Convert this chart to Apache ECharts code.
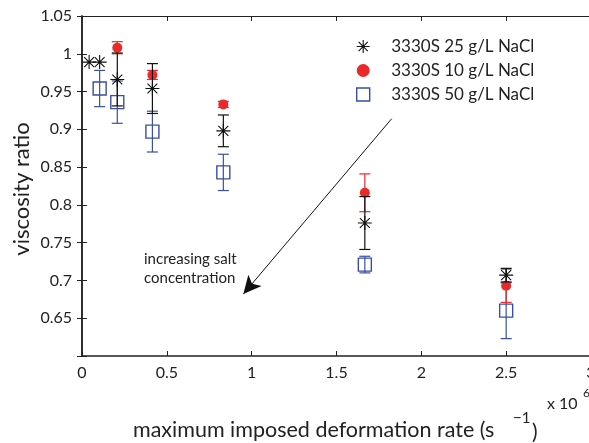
<!DOCTYPE html>
<html><head><meta charset="utf-8">
<script src="https://cdn.jsdelivr.net/npm/echarts@6/dist/echarts.min.js"></script>
<style>html,body{margin:0;padding:0;background:#fff}#c{width:589px;height:443px}</style>
</head><body><div id="c"></div>
<script>
// ---- data (x in units of 10^6 s^-1) ----
const seriesNames = ['3330S 25 g/L NaCl', '3330S 10 g/L NaCl', '3330S 50 g/L NaCl'];
const x25 = [0.042, 0.104, 0.208, 0.415, 0.833, 1.667, 2.5];
const y25 = [0.989, 0.989, 0.966, 0.954, 0.898, 0.776, 0.707];
const e25 = [0, 0, 0.035, 0.033, 0.021, 0.035, 0.009];
const x10 = [0.208, 0.415, 0.833, 1.667, 2.5];
const y10 = [1.008, 0.972, 0.933, 0.816, 0.693];
const e10 = [0.008, 0.006, 0.004, 0.025, 0.022];
const x50 = [0.104, 0.208, 0.415, 0.833, 1.667, 2.5];
const y50 = [0.954, 0.936, 0.897, 0.843, 0.721, 0.660];
const e50 = [0.024, 0.028, 0.027, 0.024, 0.011, 0.037];
const xTicks = [0, 0.5, 1, 1.5, 2, 2.5, 3];
const yTicks = [0.65, 0.7, 0.75, 0.8, 0.85, 0.9, 0.95, 1, 1.05];
// annotation arrow (data coords): from -> to
const arrowFrom = [1.825, 0.914];
const arrowTo = [0.951, 0.682];

const colors = ['#111111', '#ea2a2a', '#3a4ea6'];
const FONT = 'Lato';
const asterisk = 'path://M0,6 L12,6 M6,0 L6,12 M1.76,1.76 L10.24,10.24 M10.24,1.76 L1.76,10.24';
const square = 'path://M0,0 L10,0 L10,10 L0,10 Z';

function pts(xs, ys) { return xs.map((x, i) => [x, ys[i]]); }
function errs(xs, ys, es) { return xs.map((x, i) => [x, ys[i], es[i]]).filter(d => d[2] > 0); }

function errSeries(name, data, color, z) {
  return {
    type: 'custom', name: name, z: z, data: data,
    encode: { x: 0, y: 1 },
    renderItem: function (params, api) {
      const x = api.value(0), y = api.value(1), e = api.value(2);
      const t = api.coord([x, y + e]), b = api.coord([x, y - e]);
      const cx = t[0], hw = 5.5;
      const st = { stroke: color, lineWidth: 1.2, fill: null };
      return { type: 'group', children: [
        { type: 'line', shape: { x1: cx, y1: t[1], x2: cx, y2: b[1] }, style: st },
        { type: 'line', shape: { x1: cx - hw, y1: t[1], x2: cx + hw, y2: t[1] }, style: st },
        { type: 'line', shape: { x1: cx - hw, y1: b[1], x2: cx + hw, y2: b[1] }, style: st }
      ]};
    }
  };
}

const chart = echarts.init(document.getElementById('c'), null, { renderer: 'canvas' });
const axisLine = { show: true, lineStyle: { color: '#222', width: 1.5 } };
const tickStyle = { show: true, inside: true, length: 5, lineStyle: { color: '#222', width: 1 } };
const fmt = (list) => v => { const n = +(+v).toFixed(2); return list.indexOf(n) >= 0 ? String(n) : ''; };

chart.setOption({
  animation: false,
  grid: { left: 82, top: 16, width: 509, height: 340, containLabel: false, outerBoundsMode: 'none' },
  xAxis: [
    { type: 'value', min: 0, max: 3, interval: 0.5, position: 'bottom',
      axisLine: axisLine, axisTick: tickStyle, splitLine: { show: false },
      axisLabel: { formatter: fmt(xTicks), color: '#222', fontFamily: FONT, fontSize: 16, margin: 9 } },
    { type: 'value', min: 0, max: 3, interval: 0.5, position: 'top',
      axisLine: { show: true, lineStyle: { color: '#222', width: 1.2 } }, axisTick: tickStyle, splitLine: { show: false }, axisLabel: { show: false } }
  ],
  yAxis: [
    { type: 'value', min: 0.6, max: 1.05, interval: 0.05, position: 'left',
      axisLine: axisLine, axisTick: tickStyle, splitLine: { show: false },
      axisLabel: { formatter: fmt(yTicks), color: '#222', fontFamily: FONT, fontSize: 16, margin: 10 } },
    { type: 'value', min: 0.6, max: 1.05, interval: 0.05, position: 'right',
      axisLine: axisLine, axisTick: tickStyle, splitLine: { show: false }, axisLabel: { show: false } }
  ],
  legend: {
    orient: 'vertical', left: 351, top: 33, itemWidth: 46, itemHeight: 13, itemGap: 7,
    textStyle: { fontFamily: FONT, fontSize: 17, color: '#222', lineHeight: 17 },
    selectedMode: false,
    data: [
      { name: seriesNames[0], icon: asterisk, itemStyle: { color: '#111', borderColor: '#111', borderWidth: 1.1 } },
      { name: seriesNames[1], icon: 'circle', itemStyle: { color: colors[1], borderWidth: 0 } },
      { name: seriesNames[2], icon: square, itemStyle: { color: 'rgba(0,0,0,0)', borderColor: colors[2], borderWidth: 1.4 } }
    ]
  },
  series: [
    errSeries('err50', errs(x50, y50, e50), colors[2], 2),
    { type: 'scatter', name: seriesNames[2], z: 3, data: pts(x50, y50), symbol: square, symbolSize: 13,
      itemStyle: { color: 'rgba(0,0,0,0)', borderColor: colors[2], borderWidth: 1.4, opacity: 1 } },
    errSeries('err10', errs(x10, y10, e10), colors[1], 4),
    { type: 'scatter', name: seriesNames[1], z: 5, data: pts(x10, y10), symbol: 'circle', symbolSize: 10,
      itemStyle: { color: colors[1], opacity: 1 } },
    errSeries('err25', errs(x25, y25, e25), colors[0], 6),
    { type: 'scatter', name: seriesNames[0], z: 7, data: pts(x25, y25), symbol: asterisk, symbolSize: 14,
      itemStyle: { color: '#111', borderColor: '#111', borderWidth: 1.1, opacity: 1 },
      markLine: { silent: true, symbol: ['none', 'arrow'], symbolSize: [13, 18], label: { show: false },
        lineStyle: { color: '#111', width: 1, type: 'solid' },
        data: [[{ coord: arrowFrom }, { coord: arrowTo }]] } }
  ],
  graphic: [
    { type: 'text', left: 144, top: 250, style: { text: 'increasing salt\nconcentration', font: '15px ' + FONT, fill: '#222', lineHeight: 19 } },
    { type: 'text', x: 22, y: 189, rotation: Math.PI / 2, style: { text: 'viscosity ratio', font: '22px ' + FONT, fill: '#222', align: 'center', verticalAlign: 'middle' } },
    { type: 'text', x: 133, y: 430, style: { text: 'maximum imposed deformation rate (s', font: '21.5px ' + FONT, fill: '#222', verticalAlign: 'middle' } },
    { type: 'text', x: 513, y: 418, style: { text: '\u22121', font: '15px ' + FONT, fill: '#222', verticalAlign: 'middle' } },
    { type: 'text', x: 532, y: 432, style: { text: ')', font: '21px ' + FONT, fill: '#222', verticalAlign: 'middle' } },
    { type: 'text', x: 547, y: 404, style: { text: 'x 10', font: '16px ' + FONT, fill: '#222', verticalAlign: 'middle' } },
    { type: 'text', x: 583, y: 393, style: { text: '6', font: '12px ' + FONT, fill: '#222', verticalAlign: 'middle' } }
  ]
});
</script></body></html>
